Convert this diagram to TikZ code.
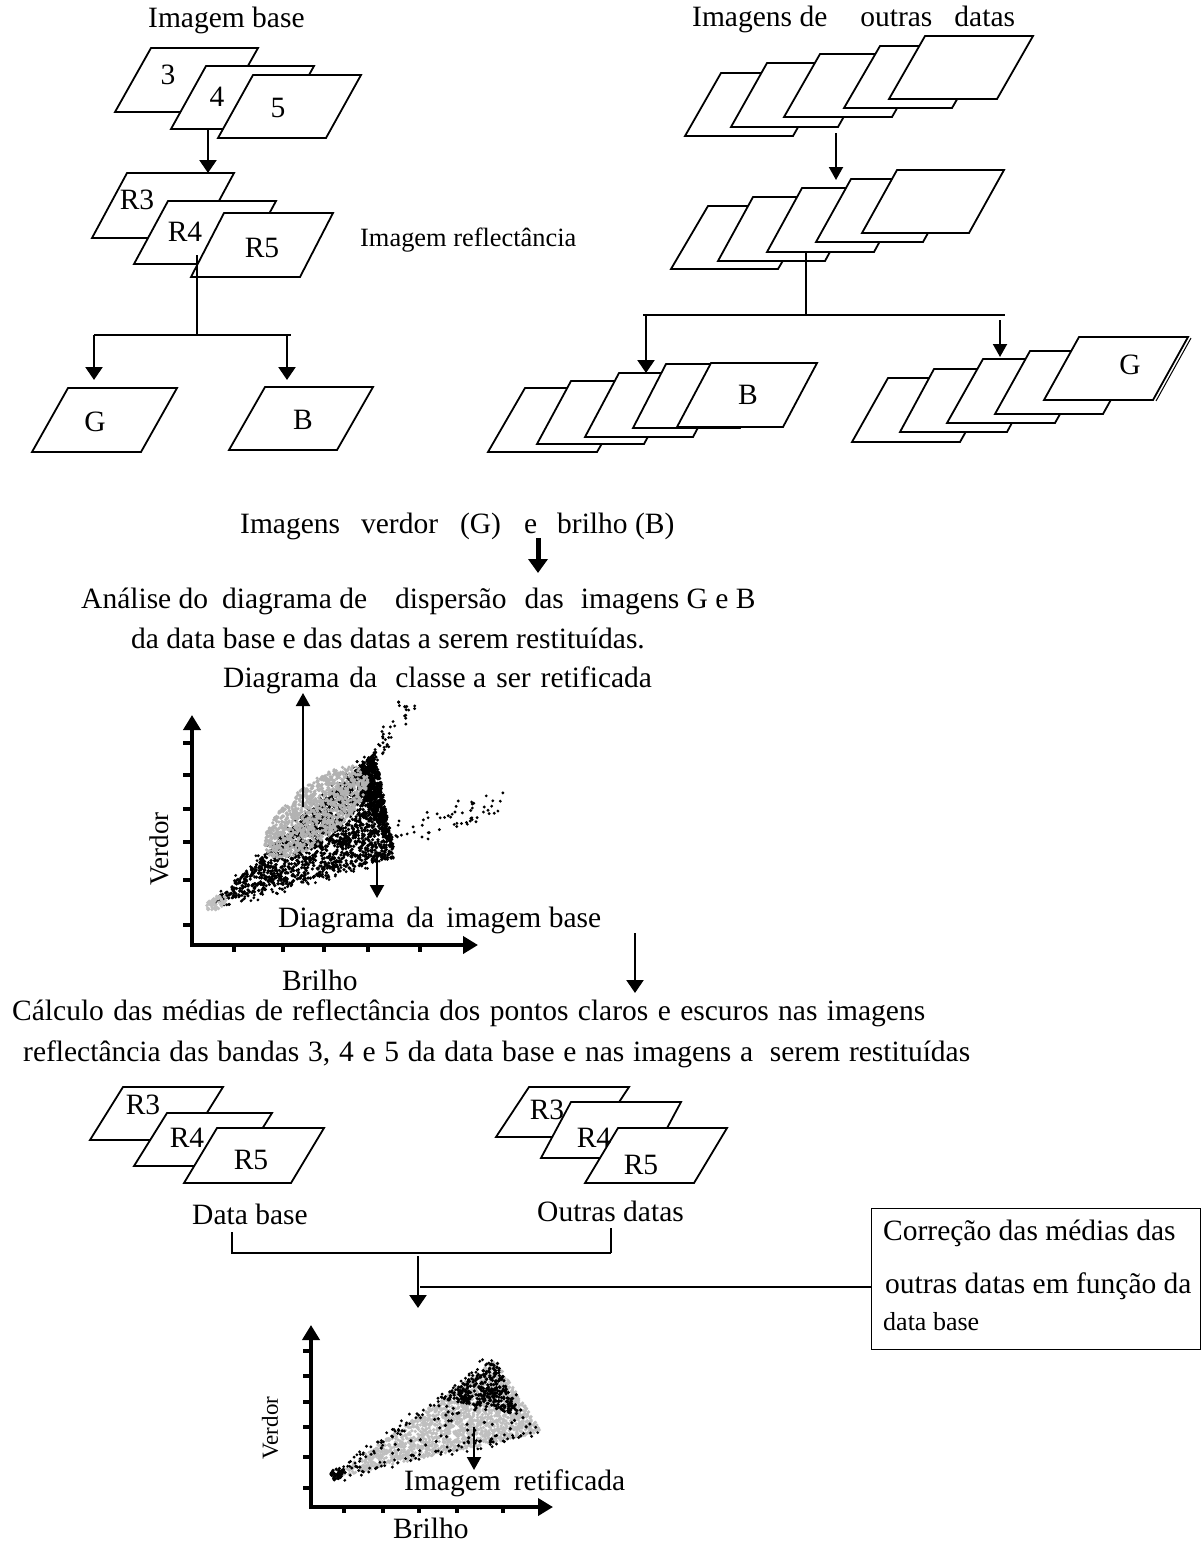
\documentclass[tikz,border=0pt]{standalone}
\usepackage{fontspec}
\setmainfont{Liberation Serif}
\usetikzlibrary{arrows.meta}
\newcommand\mainfs{\fontsize{29.5}{34}\selectfont}
\newcommand\pgm[6]{%
  \draw[pbox] (#2,#3) -- ++(#4,0) -- ++(#6,-#5) -- ++(-#4,0) -- cycle;
  \coordinate (#1) at ({#2+#4/2+#6/2},{#3-#5/2});}
\newcommand\tridots[8]{%
 \foreach \kk in {1,...,#1}{%
  \pgfmathsetmacro\uaa{rnd}%
  \pgfmathsetmacro\vaa{rnd}%
  \pgfmathsetmacro\fla{(\uaa+\vaa>1)}%
  \pgfmathsetmacro\ubb{\fla*(1-\uaa)+(1-\fla)*\uaa}%
  \pgfmathsetmacro\vbb{\fla*(1-\vaa)+(1-\fla)*\vaa}%
  \pgfmathsetmacro\pxa{#2+\ubb*(#4-#2)+\vbb*(#6-#2)}%
  \pgfmathsetmacro\pya{#3+\ubb*(#5-#3)+\vbb*(#7-#3)}%
  \fill[#8] (\pxa,\pya) circle (1.8pt);
 }}
\newcommand\linedots[7]{%
 \foreach \kk in {1,...,#1}{%
  \pgfmathsetmacro\taa{rnd}%
  \pgfmathsetmacro\nxa{#6*(2*rnd-1)}%
  \pgfmathsetmacro\nya{#6*(2*rnd-1)}%
  \fill[#7] ({#2+\taa*(#4-#2)+\nxa},{#3+\taa*(#5-#3)+\nya}) circle (1.6pt);
 }}
\newcommand\elldots[7]{%
 \foreach \kk in {1,...,#1}{%
  \pgfmathsetmacro\rra{sqrt(rnd)}%
  \pgfmathsetmacro\tha{360*rnd}%
  \pgfmathsetmacro\exa{#2+#4*\rra*cos(\tha)*cos(#6)-#5*\rra*sin(\tha)*sin(#6)}%
  \pgfmathsetmacro\eya{#3+#4*\rra*cos(\tha)*sin(#6)+#5*\rra*sin(\tha)*cos(#6)}%
  \fill[#7] (\exa,\eya) circle (1.8pt);
 }}
\tikzset{
 pbox/.style={draw=black, fill=white, line width=1.8pt, line join=miter},
 thinl/.style={line width=1.4pt},
 arr/.style={line width=2.4pt, -{Triangle[width=17pt,length=13pt]}},
 arrs/.style={line width=2pt, -{Triangle[width=14pt,length=13pt]}},
 bigarr/.style={line width=5pt, -{Triangle[width=19pt,length=14pt]}},
 axisl/.style={line width=4pt, -{Triangle[width=17pt,length=15pt]}},
 tickl/.style={line width=4pt},
 txt/.style={font=\mainfs, inner sep=0pt, anchor=base west},
 lbl/.style={font=\mainfs, inner sep=0pt},
}
\begin{document}
\begin{tikzpicture}[x=1pt,y=-1pt]
\fill[white] (0,0) rectangle (1202,1545);
\useasboundingbox (0,0) rectangle (1202,1545);

% ---------- top left ----------
\node[txt] (ib) at (148,27) {Imagem base};
\pgm{p3}{115}{112}{107}{64}{36}
\pgm{p4}{171}{129}{108}{63}{35}
\pgm{p5}{218}{138}{108}{63}{35}
\node[lbl] (l3) at (168,75) {3};
\node[lbl] (l4) at (217,97) {4};
\node[lbl] (l5) at (278,108) {5};

\pgm{r3}{92}{238}{107}{65}{35}
\pgm{r4}{134}{264}{108}{63}{34}
\pgm{r5}{191}{277}{109}{64}{33}
\node[lbl] (lr3) at (137,200) {R3};
\node[lbl] (lr4) at (185,232) {R4};
\node[lbl] (lr5) at (262,248) {R5};
\node[txt, font=\fontsize{26.4}{30}\selectfont] (iref) at (360,246) {Imagem reflectância};

\coordinate (c1a) at (208,129); \coordinate (c1b) at (208,173);
\draw[arr] (c1a) -- (c1b);
\coordinate (c2a) at (197,255); \coordinate (c2b) at (197,335);
\coordinate (c2l) at (94,335); \coordinate (c2r) at (291,335);
\draw[thinl] (c2a) -- (c2b);
\draw[thinl] (c2l) -- (c2r);
\coordinate (c2gt) at (94,380); \coordinate (c2bs) at (287,335); \coordinate (c2bt) at (287,380);
\draw[arr] (c2l) -- (c2gt);
\draw[arr] (c2bs) -- (c2bt);

\pgm{gb}{32}{452}{109}{64}{36}
\pgm{bb}{229}{450}{108}{63}{36}
\node[lbl] (lg) at (95,422) {G};
\node[lbl] (lb) at (303,420) {B};

% ---------- top right ----------
\node[txt] (iod) at (692,26) {Imagens de\hspace{33pt}outras\hspace{22pt}datas};
\pgm{a1}{685}{136}{108}{63}{36}
\pgm{a2}{731}{127}{107}{64}{36}
\pgm{a3}{784}{117}{108}{63}{36}
\pgm{a4}{844}{108}{108}{62}{36}
\pgm{a5}{889}{99}{108}{63}{36}

\coordinate (c3a) at (836,133); \coordinate (c3b) at (836,180);
\draw[arrs] (c3a) -- (c3b);

\pgm{q1}{671}{269}{107}{63}{37}
\pgm{q2}{718}{261}{107}{64}{35}
\pgm{q3}{767}{252}{107}{64}{35}
\pgm{q4}{816}{242}{107}{63}{35}
\pgm{q5}{862}{233}{107}{63}{35}

\coordinate (c4a) at (806,252); \coordinate (c4b) at (806,315);
\coordinate (c4l) at (643,315); \coordinate (c4r) at (1005,315);
\draw[thinl] (c4a) -- (c4b);
\draw[thinl] (c4l) -- (c4r);
\coordinate (c4ls) at (646,315); \coordinate (c4lt) at (646,373);
\coordinate (c4rs) at (1000,320); \coordinate (c4rt) at (1000,357);
\draw[arr] (c4ls) -- (c4lt);
\draw[arrs] (c4rs) -- (c4rt);

\pgm{s1}{488}{452}{109}{64}{37}
\pgm{s2}{537}{444}{107}{63}{34}
\pgm{s3}{585}{437}{108}{64}{34}
\pgm{s4}{633}{428}{107}{64}{33}
\pgm{s5}{677}{427}{106}{64}{34}
\node[lbl] (lb2) at (748,395) {B};

\pgm{t1}{852}{442}{108}{64}{36}
\pgm{t2}{900}{432}{107}{63}{34}
\pgm{t3}{947}{423}{108}{64}{36}
\pgm{t4}{995}{414}{108}{63}{35}
\pgm{t5}{1044}{400}{109}{63}{35}
\draw[line width=1pt] (1191,338) -- (1156,401);
\node[lbl] (lg2) at (1130,365) {G};

% ---------- middle texts ----------
\node[txt] (ivb) at (240,533) {Imagens\hspace{21pt}verdor\hspace{22pt}(G)\hspace{23pt}e\hspace{20pt}brilho (B)};
\coordinate (c5a) at (538,538); \coordinate (c5b) at (538,573);
\draw[bigarr] (c5a) -- (c5b);
\node[txt] (an1) at (81,608) {Análise do\hspace{14pt}diagrama de\hspace{28pt}dispersão\hspace{18pt}das\hspace{17pt}imagens G e B};
\node[txt] (an2) at (131,648) {da data base e das datas a serem restituídas.};
\node[txt] (dcl) at (223,687) {Diagrama\hspace{10pt}da\hspace{18pt}classe a\hspace{10pt}ser\hspace{10pt}retificada};

% ---------- scatter 1 ----------
\pgfmathsetseed{7}
\tridots{1500}{212}{903}{372}{755}{394}{858}{black}
\tridots{600}{352}{775}{375}{752}{395}{855}{black}
\linedots{110}{215}{900}{372}{757}{6}{black}
\linedots{110}{215}{905}{390}{855}{6}{black}
\elldots{1100}{316}{812}{64}{27}{-40}{gray!60}
\elldots{60}{216}{903}{11}{6}{-30}{gray!50}
\linedots{45}{368}{765}{410}{700}{8}{black}
\linedots{60}{388}{838}{500}{802}{12}{black}

\coordinate (y1b) at (192,947); \coordinate (y1t) at (192,715);
\coordinate (x1l) at (190,945); \coordinate (x1r) at (478,945);
\draw[axisl] (y1b) -- (y1t);
\draw[axisl] (x1l) -- (x1r);
\foreach \yy in {743,775,809,842,880,925}{\draw[tickl] (183,\yy) -- (192,\yy);}
\foreach \xx in {234,283,324,368,420}{\draw[tickl] (\xx,945) -- (\xx,952);}
\node[lbl, rotate=90, font=\fontsize{27}{30}\selectfont] (vd1) at (159,849) {Verdor};
\node[txt] (br1) at (282,990) {Brilho};

\coordinate (c6a) at (303,807); \coordinate (c6b) at (303,693);
\draw[arrs] (c6a) -- (c6b);
\coordinate (c7a) at (377,853); \coordinate (c7b) at (377,898);
\draw[arrs] (c7a) -- (c7b);
\node[txt] (dib) at (278,927) {Diagrama\hspace{12pt}da\hspace{12pt}imagem base};
\coordinate (c8a) at (635,933); \coordinate (c8b) at (635,993);
\draw[arr] (c8a) -- (c8b);

\node[txt] (calc1) at (12,1020) {\makebox[913pt][s]{Cálculo das médias de reflectância dos pontos claros e escuros nas imagens}};
\node[txt] (calc2) at (23,1061) {\makebox[947pt][s]{reflectância das bandas 3, 4 e 5 da data base e nas imagens a\hspace{8pt} serem restituídas}};

% ---------- lower stacks ----------
\pgm{lr3}{90}{1140}{100}{53}{33}
\pgm{lr4}{134}{1166}{105}{53}{33}
\pgm{lr5}{184}{1183}{107}{55}{33}
\node[lbl] (llr3) at (143,1105) {R3};
\node[lbl] (llr4) at (187,1138) {R4};
\node[lbl] (llr5) at (251,1160) {R5};
\pgm{or3}{496}{1137}{100}{50}{33}
\pgm{or4}{541}{1158}{110}{56}{30}
\pgm{or5}{585}{1183}{109}{55}{33}
\node[lbl] (lor3) at (547,1110) {R3};
\node[lbl] (lor4) at (594,1138) {R4};
\node[lbl] (lor5) at (641,1165) {R5};
\node[txt] (dbase) at (192,1224) {Data base};
\node[txt] (odat) at (537,1221) {Outras datas};

\coordinate (c9a) at (232,1232); \coordinate (c9b) at (232,1254);
\coordinate (c9c) at (611,1253); \coordinate (c9d) at (611,1228);
\draw[thinl] (c9a) -- (c9b);
\draw[thinl] (232,1253) -- (c9c);
\draw[thinl] (c9d) -- (c9c);
\coordinate (c10a) at (418,1256); \coordinate (c10b) at (418,1308);
\draw[arr] (c10a) -- (c10b);

\node[draw, line width=1.2pt, inner sep=0pt, minimum width=329pt, minimum height=141pt, anchor=north west] (corr) at (871,1208) {};
\coordinate (c11a) at (420,1287);
\draw[thinl] (c11a) -- (corr.west |- c11a);
\node[txt] (co1) at (883,1240) {Correção das médias das};
\node[txt] (co2) at (885,1293) {outras datas em função da};
\node[txt, font=\fontsize{26}{30}\selectfont] (co3) at (883,1330) {data base};

% ---------- scatter 2 ----------
\tridots{1700}{332}{1478}{495}{1360}{542}{1432}{gray!50}
\tridots{300}{440}{1398}{497}{1360}{520}{1415}{black}
\linedots{90}{335}{1476}{490}{1362}{5}{black}
\linedots{60}{335}{1478}{540}{1430}{5}{black}
\tridots{80}{332}{1478}{495}{1360}{542}{1432}{black}
\elldots{40}{336}{1474}{9}{5}{-30}{black}

\coordinate (y2b) at (311,1509); \coordinate (y2t) at (311,1325);
\coordinate (x2l) at (309,1507); \coordinate (x2r) at (553,1507);
\draw[axisl] (y2b) -- (y2t);
\draw[axisl] (x2l) -- (x2r);
\foreach \yy in {1351,1376,1402,1427,1457,1488}{\draw[tickl] (303,\yy) -- (311,\yy);}
\foreach \xx in {344,383,419,457,503}{\draw[tickl] (\xx,1507) -- (\xx,1513);}
\node[lbl, rotate=90, font=\fontsize{23}{26}\selectfont] (vd2) at (270,1428) {Verdor};
\node[txt] (br2) at (393,1538) {Brilho};
\coordinate (c12a) at (474,1427); \coordinate (c12b) at (474,1470);
\draw[arrs] (c12a) -- (c12b);
\node[txt] (iret) at (404,1490) {Imagem\hspace{13pt}retificada};
\end{tikzpicture}
\end{document}
